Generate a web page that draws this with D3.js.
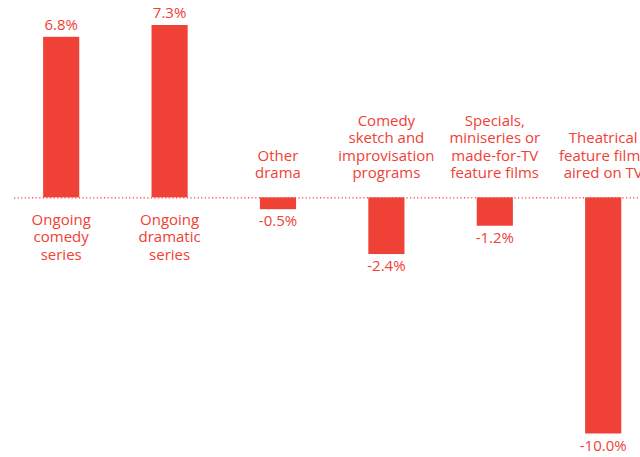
<!DOCTYPE html>
<html>
<head>
<meta charset="utf-8">
<script src="https://cdn.jsdelivr.net/npm/d3@7"></script>
<style>
	body { margin: 0; background: #fff; }
	#chart text { font-family: "Open Sans", sans-serif; font-size: 15px; font-weight: 500; fill: #ef4136; }
</style>
</head>
<body>
<div id="chart"></div>
<script>

	var categories = [
		['Ongoing', 'comedy', 'series'],
		['Ongoing', 'dramatic', 'series'],
		['Other', 'drama'],
		['Comedy', 'sketch and', 'improvisation', 'programs'],
		['Specials,', 'miniseries or', 'made-for-TV', 'feature films'],
		['Theatrical', 'feature films', 'aired on TV']
	]

	var values = [6.8, 7.3, -0.5, -2.4, -1.2, -10.0]

	var width = 640,
		height = 457,
		red = '#ef4136',
		line_height = 17.5

	var data = values.map((v, i) => ({ id: i, value: v, label: categories[i] }))

	var svg = d3.select('#chart')
		.append('svg')
		.attr('width', width)
		.attr('height', height)

	var x = d3.scaleBand()
		.domain(data.map(d => d.id))
		.range([7, 657.4])
		.paddingInner(2 / 3)
		.paddingOuter(1 / 3)

	var y = d3.scaleLinear()
		.domain([-10, 7.3])
		.range([433.5, 25])

	// hyphen rather than d3's unicode minus, like the original
	var format = d => d3.format('.1f')(d).replace('\u2212', '-') + '%'

	// zero line
	svg.append('line')
		.attr('x1', 14)
		.attr('x2', width)
		.attr('y1', y(0) + 0.5)
		.attr('y2', y(0) + 0.5)
		.attr('stroke', red)
		.attr('stroke-width', 1.2)
		.attr('stroke-dasharray', '1.2,2.4')

	svg.append('g')
		.selectAll('rect')
		.data(data)
		.join('rect')
			.attr('x', d => x(d.id))
			.attr('width', x.bandwidth())
			.attr('y', d => y(Math.max(0, d.value)))
			.attr('height', d => Math.abs(y(d.value) - y(0)))
			.attr('fill', red)

	// value labels
	svg.append('g')
		.selectAll('text')
		.data(data)
		.join('text')
			.attr('x', d => x(d.id) + x.bandwidth() / 2)
			.attr('y', d => d.value >= 0 ? y(d.value) - 7 : y(d.value) + 17)
			.attr('text-anchor', 'middle')
			.text(d => format(d.value))

	// category labels
	var labels = svg.append('g')
		.selectAll('text')
		.data(data)
		.join('text')
			.attr('text-anchor', 'middle')
			.attr('transform', d => {
				let n = d.label.length
				let ty = d.value >= 0 ? y(0) + 27.5 : y(0) - 19 - (n - 1) * line_height
				return 'translate(' + (x(d.id) + x.bandwidth() / 2) + ',' + ty + ')'
			})

	labels.selectAll('tspan')
		.data(d => d.label)
		.join('tspan')
			.attr('x', 0)
			.attr('y', (d, i) => i * line_height)
			.text(d => d)

</script>
</body>
</html>
